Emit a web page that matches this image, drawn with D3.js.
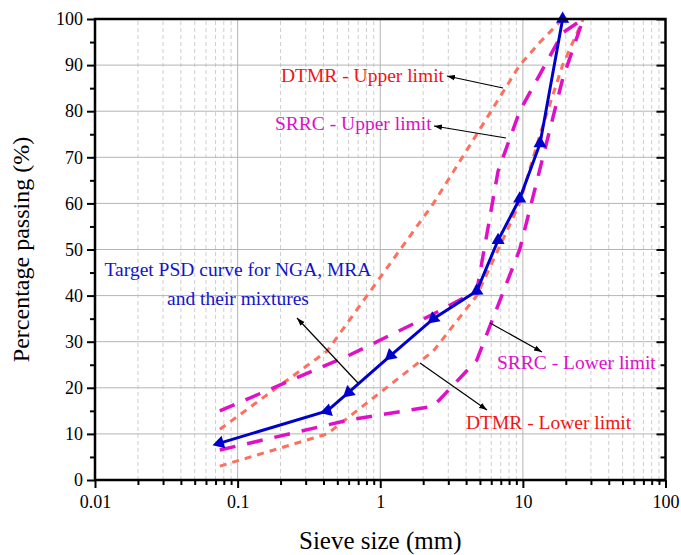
<!DOCTYPE html>
<html>
<head>
<meta charset="utf-8">
<script src="https://cdn.jsdelivr.net/npm/d3@7"></script>
<style>
  body { margin: 0; background: #fff; }
</style>
</head>
<body>
<svg width="681" height="555"></svg>
<script>
// sieve sizes (mm) and percentage passing for each curve
const targetSize = [0.075, 0.425, 0.6, 1.18, 2.36, 4.75, 6.7, 9.5, 13.2, 19];
const targetPass = [8, 15, 19, 27, 35, 41, 52, 61, 73, 100];

const dtmrUpperSize = [0.075, 0.425, 2.36, 4.75, 9.5, 13.2, 19];
const dtmrUpperPass = [11, 28, 60, 75, 90, 95, 100];
const dtmrLowerSize = [0.075, 0.425, 2.36, 4.75, 9.5, 13.2, 19, 26.5];
const dtmrLowerPass = [3, 10, 28, 40, 60, 75, 90, 100];

const srrcUpperSize = [0.075, 0.6, 2.36, 4.75, 6.7, 9.5, 19, 26.5];
const srrcUpperPass = [15, 27, 36, 41, 67, 80, 97, 100];
const srrcLowerSize = [0.075, 0.6, 2.36, 4.75, 9.5, 19, 26.5];
const srrcLowerPass = [6.5, 13, 16, 26, 50, 87, 100];

const xTicks = [0.01, 0.1, 1, 10, 100];
const yTicks = [0, 10, 20, 30, 40, 50, 60, 70, 80, 90, 100];

const width = 681;
const height = 555;
const marginTop = 19;
const marginBottom = 75;
const marginLeft = 95;
const marginRight = 15.5;
const serif = "Liberation Serif";

const svg = d3.select("svg").attr("font-family", serif);

const x = d3.scaleLog([0.01, 100], [marginLeft, width - marginRight]);
const y = d3.scaleLinear([0, 100], [height - marginBottom, marginTop]);

const minorX = [];
for (let d = 0.01; d < 100; d *= 10) {
  for (let k = 2; k <= 9; k++) minorX.push(+(d * k).toPrecision(3));
}

// grid
svg.append("g")
  .selectAll("line")
  .data(minorX)
  .join("line")
  .attr("x1", (d) => x(d)).attr("x2", (d) => x(d))
  .attr("y1", y(0)).attr("y2", y(100))
  .attr("stroke", "#c8c8c8")
  .attr("stroke-width", 0.9)
  .attr("stroke-dasharray", "4,3");

svg.append("g")
  .selectAll("line")
  .data(xTicks)
  .join("line")
  .attr("x1", (d) => x(d)).attr("x2", (d) => x(d))
  .attr("y1", y(0)).attr("y2", y(100))
  .attr("stroke", "#b4b4b4")
  .attr("stroke-width", 1);

svg.append("g")
  .selectAll("line")
  .data(yTicks)
  .join("line")
  .attr("x1", x(0.01)).attr("x2", x(100))
  .attr("y1", (d) => y(d)).attr("y2", (d) => y(d))
  .attr("stroke", "#b4b4b4")
  .attr("stroke-width", 1);

// curves
const line = (sizes, pass) =>
  d3.line().x((i) => x(sizes[i])).y((i) => y(pass[i]))(d3.range(sizes.length));

svg.append("clipPath").attr("id", "plot")
  .append("rect")
  .attr("x", marginLeft).attr("y", marginTop)
  .attr("width", width - marginLeft - marginRight)
  .attr("height", height - marginTop - marginBottom);

const curves = svg.append("g").attr("clip-path", "url(#plot)");

curves.append("path").attr("d", line(dtmrUpperSize, dtmrUpperPass))
  .attr("fill", "none").attr("stroke", "#ff6f5e").attr("stroke-width", 3)
  .attr("stroke-dasharray", "7,6");
curves.append("path").attr("d", line(dtmrLowerSize, dtmrLowerPass))
  .attr("fill", "none").attr("stroke", "#ff6f5e").attr("stroke-width", 3)
  .attr("stroke-dasharray", "7,6");
curves.append("path").attr("d", line(srrcUpperSize, srrcUpperPass))
  .attr("fill", "none").attr("stroke", "#e010c8").attr("stroke-width", 3.5)
  .attr("stroke-dasharray", "16,12");
curves.append("path").attr("d", line(srrcLowerSize, srrcLowerPass))
  .attr("fill", "none").attr("stroke", "#e010c8").attr("stroke-width", 3.5)
  .attr("stroke-dasharray", "16,12");

curves.append("path").attr("d", line(targetSize, targetPass))
  .attr("fill", "none").attr("stroke", "#0000cc").attr("stroke-width", 3);

// triangle markers: point back along shallow segments, upright on steep ones
const tri = d3.symbol(d3.symbolTriangle, 75);
svg.append("g").selectAll("path")
  .data(d3.range(targetSize.length))
  .join("path")
  .attr("d", tri)
  .attr("fill", "#0000cc")
  .attr("transform", (i) => {
    const j = i === 0 ? 1 : i - 1;
    let dx = x(targetSize[j]) - x(targetSize[i]);
    let dy = y(targetPass[j]) - y(targetPass[i]);
    if (i === 0) { dx = -dx; dy = -dy; }
    let a = (Math.atan2(dy, dx) * 180) / Math.PI + 90;
    if (Math.abs(dy) > 1.2 * Math.abs(dx)) a = 0;
    return `translate(${x(targetSize[i])},${y(targetPass[i])}) rotate(${a})`;
  });

// axes
svg.append("rect")
  .attr("x", marginLeft).attr("y", marginTop)
  .attr("width", width - marginLeft - marginRight)
  .attr("height", height - marginTop - marginBottom)
  .attr("fill", "none").attr("stroke", "#000").attr("stroke-width", 2.5);

const bottom = svg.append("g")
  .attr("transform", `translate(0, ${height - marginBottom})`)
  .call(d3.axisBottom(x).tickValues(xTicks).tickFormat((d) => String(d)).tickSize(8).tickPadding(7));
bottom.append("g").call(d3.axisBottom(x).tickValues(minorX).tickFormat("").tickSize(5));

const left = svg.append("g")
  .attr("transform", `translate(${marginLeft},0)`)
  .call(d3.axisLeft(y).tickValues(yTicks).tickSize(8).tickPadding(4));
left.append("g").call(d3.axisLeft(y).tickValues(d3.range(5, 100, 10)).tickFormat("").tickSize(5));

const right = svg.append("g")
  .attr("transform", `translate(${width - marginRight},0)`)
  .call(d3.axisLeft(y).tickValues(yTicks).tickFormat("").tickSize(9));
right.append("g").call(d3.axisLeft(y).tickValues(d3.range(5, 100, 10)).tickFormat("").tickSize(5));

svg.selectAll(".domain").remove();
svg.selectAll(".tick line").attr("stroke", "#000").attr("stroke-width", 2);
svg.selectAll("g").filter(function () { return this.getAttribute("font-family"); })
  .attr("font-family", serif).attr("font-size", 18);
svg.selectAll(".tick text").attr("fill", "#000");

svg.append("text")
  .attr("x", (marginLeft + width - marginRight) / 2)
  .attr("y", 549)
  .attr("text-anchor", "middle")
  .attr("font-size", 25)
  .text("Sieve size (mm)");

svg.append("text")
  .attr("transform", `translate(29, ${(marginTop + height - marginBottom) / 2}) rotate(-90)`)
  .attr("text-anchor", "middle")
  .attr("font-size", 24)
  .text("Percentage passing (%)");

// annotations
svg.append("defs").append("marker")
  .attr("id", "arrow")
  .attr("viewBox", "0 0 10 10")
  .attr("refX", 10).attr("refY", 5)
  .attr("markerWidth", 8).attr("markerHeight", 8)
  .attr("markerUnits", "userSpaceOnUse")
  .attr("orient", "auto")
  .append("path").attr("d", "M0,1.5 L10,5 L0,8.5 Z").attr("fill", "#000");

const notes = [
  { text: ["DTMR - Upper limit"], color: "#f01414", tx: 281, ty: 82, anchor: "start", from: [503, 88], to: [447, 76] },
  { text: ["SRRC - Upper limit"], color: "#dc10c8", tx: 275, ty: 130, anchor: "start", from: [506, 138], to: [434, 126] },
  { text: ["Target PSD curve for NGA, MRA", "and their mixtures"], color: "#1414c8", tx: 238, ty: 276, anchor: "middle", from: [358, 383], to: [297, 318] },
  { text: ["SRRC - Lower limit"], color: "#dc10c8", tx: 497, ty: 369, anchor: "start", from: [490, 323], to: [542, 352] },
  { text: ["DTMR - Lower limit"], color: "#f01414", tx: 466, ty: 429, anchor: "start", from: [420, 363], to: [487, 410] },
];

notes.forEach((n) => {
  const t = svg.append("text")
    .attr("x", n.tx).attr("y", n.ty)
    .attr("text-anchor", n.anchor)
    .attr("fill", n.color)
    .attr("font-size", 19.5);
  n.text.forEach((s, i) => {
    t.append("tspan").attr("x", n.tx).attr("dy", i === 0 ? 0 : 29).text(s);
  });
  svg.append("line")
    .attr("x1", n.from[0]).attr("y1", n.from[1])
    .attr("x2", n.to[0]).attr("y2", n.to[1])
    .attr("stroke", "#000").attr("stroke-width", 1.2)
    .attr("marker-end", "url(#arrow)");
});
</script>
</body>
</html>
